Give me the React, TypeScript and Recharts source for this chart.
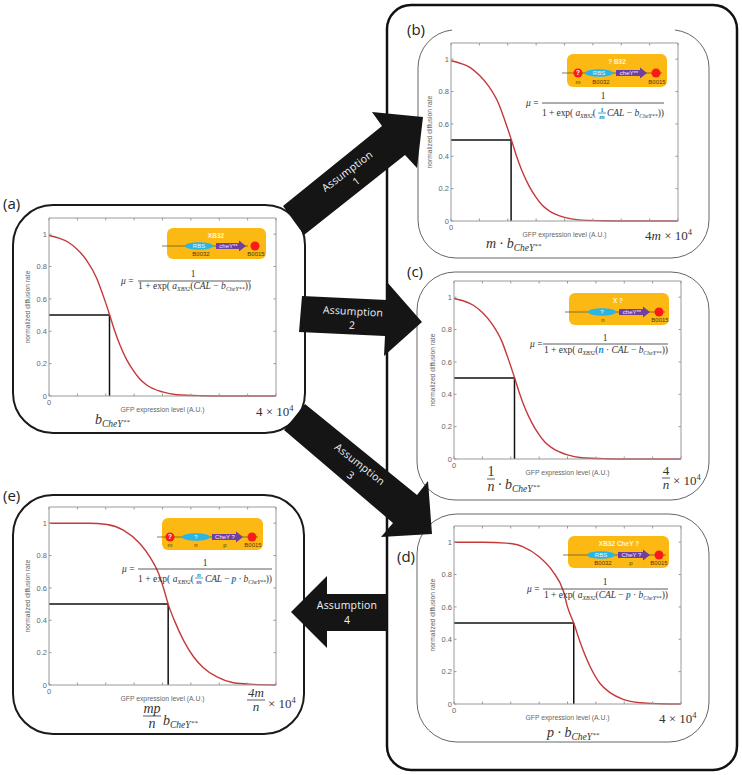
import React from "react";
import { LineChart, Line, XAxis, YAxis, ReferenceLine } from "recharts";

const xEarly = [0, 0.16, 0.34, 0.5, 0.66, 0.84, 0.95, 1.07, 1.16, 1.25, 1.37, 1.49, 1.6, 1.72, 2.0, 2.25, 2.66, 3.2, 4];
const yPanelA = [0.992, 0.977, 0.95, 0.905, 0.84, 0.728, 0.625, 0.5, 0.4, 0.315, 0.223, 0.155, 0.105, 0.068, 0.025, 0.008, 0.002, 0, 0];
const yPanelB = [0.99, 0.975, 0.948, 0.9, 0.835, 0.725, 0.62, 0.495, 0.395, 0.31, 0.22, 0.15, 0.1, 0.065, 0.022, 0.007, 0.002, 0, 0];
const yPanelC = [0.992, 0.978, 0.95, 0.905, 0.84, 0.73, 0.625, 0.5, 0.4, 0.315, 0.225, 0.155, 0.105, 0.07, 0.025, 0.008, 0.002, 0, 0];
const xPanelD = [0, 0.51, 0.92, 1.21, 1.5, 1.74, 1.93, 2.0, 2.11, 2.22, 2.4, 2.57, 2.75, 2.98, 3.28, 3.63, 4];
const yPanelD = [1, 1, 0.994, 0.973, 0.91, 0.82, 0.695, 0.6, 0.5, 0.385, 0.23, 0.128, 0.07, 0.029, 0.008, 0.002, 0];
const xPanelE = [0, 0.69, 1.02, 1.31, 1.6, 1.78, 1.93, 2.02, 2.1, 2.22, 2.37, 2.55, 2.72, 2.96, 3.25, 3.6, 4];
const yPanelE = [1, 1, 0.992, 0.957, 0.874, 0.79, 0.69, 0.596, 0.5, 0.39, 0.276, 0.173, 0.107, 0.05, 0.014, 0.004, 0];

const xTicks = [0, 0.5, 1, 1.5, 2, 2.5, 3, 3.5, 4];
const yTicks = [0, 0.2, 0.4, 0.6, 0.8, 1];
const yLabel = "normalized diffusion rate";
const xLabel = "GFP expression level (A.U.)";

const AXIS = "#9a9a9a";
const LABEL = "#666";
const SANS = "'Liberation Sans', Arial, sans-serif";
const SERIF = "'Liberation Serif', serif";
const UI = "'Open Sans', sans-serif";

const LEFT = 30, BOTTOM = 30, PAD = 6, PW = 227, PH = 178;

function Plot({ px, py, xs, ys, half }: { px: number; py: number; xs: number[]; ys: number[]; half: number }) {
  const data = xs.map((x, i) => ({ x, y: ys[i] }));
  const botTick = ({ x, y, payload }: any) => (
    <g>
      <line x1={x} x2={x} y1={y} y2={y - 2.5} stroke={AXIS} />
      <line x1={x} x2={x} y1={y - PH} y2={y - PH + 2.5} stroke={AXIS} />
      {payload.value === 0 ? <text x={x} y={y + 9} fontSize={7.5} fill={LABEL} textAnchor="middle" fontFamily={SANS}>0</text> : null}
    </g>
  );
  const leftTick = ({ x, y, payload }: any) => (
    <g>
      <line x1={x} x2={x + 2.5} y1={y} y2={y} stroke={AXIS} />
      <line x1={x + PW} x2={x + PW - 2.5} y1={y} y2={y} stroke={AXIS} />
      <text x={x - 2} y={y + 2.7} fontSize={7.5} fill={LABEL} textAnchor="end" fontFamily={SANS}>{payload.value}</text>
    </g>
  );
  return (
    <div style={{ position: "absolute", left: px - LEFT, top: py - PAD }}>
      <LineChart width={LEFT + PW + PAD} height={PAD + PH + BOTTOM} data={data} margin={{ top: PAD, right: PAD, bottom: 0, left: 0 }}>
        <XAxis dataKey="x" type="number" domain={[0, 4]} ticks={xTicks} height={BOTTOM} interval={0} tickSize={0} tickMargin={0} tick={botTick} stroke={AXIS}
          label={{ value: xLabel, position: "insideTop", offset: 11, fontSize: 6.8, fill: LABEL, fontFamily: SANS }} />
        <YAxis type="number" domain={[0, 1.1]} ticks={yTicks} width={LEFT} interval={0} tickSize={0} tickMargin={0} tick={leftTick} stroke={AXIS}
          label={{ value: yLabel, angle: -90, position: "insideLeft", offset: 9, fontSize: 6.7, fill: LABEL, fontFamily: SANS, style: { textAnchor: "middle" } }} />
        <ReferenceLine x={4} stroke={AXIS} />
        <ReferenceLine y={1.1} stroke={AXIS} />
        <ReferenceLine segment={[{ x: 0, y: 0.5 }, { x: half, y: 0.5 }]} stroke="#111" strokeWidth={1.5} />
        <ReferenceLine segment={[{ x: half, y: 0.5 }, { x: half, y: 0 }]} stroke="#111" strokeWidth={1.5} />
        <Line dataKey="y" type="monotone" stroke="#c5383a" strokeWidth={1.4} dot={false} isAnimationActive={false} />
      </LineChart>
    </div>
  );
}

function Arrow({ points, lines }: { points: string; lines: [string, number, number, number][] }) {
  return (
    <g>
      <polygon points={points} fill="#151515" />
      {lines.map(([t, x, y, a]) => (
        <text key={t + x} x={x} y={y} transform={`rotate(${a} ${x} ${y})`} fontSize={10.5} fill="#f2f2f2" textAnchor="middle" dominantBaseline="central" fontFamily={UI} letterSpacing={0.2}>{t}</text>
      ))}
    </g>
  );
}

function Gene({ x, y, w, h, title, titleX, line, ell, ellText, arrow, arrowText, stop, q, labels }:
  { x: number; y: number; w: number; h: number; title?: string; titleX?: number; line: number[]; ell: number; ellText: string; arrow: number[]; arrowText: string; stop: number; q?: number; labels: [string, number][] }) {
  const ly = line[2];
  return (
    <g fontFamily={SANS} textAnchor="middle">
      <rect x={x} y={y} width={w} height={h} rx={6} fill="#fdb913" />
      {title ? <text x={titleX} y={y + 9.5} fontSize={6.5} fontWeight={700} fill="#fff6dc">{title}</text> : null}
      <line x1={line[0]} x2={line[1]} y1={ly} y2={ly} stroke="#6b5a2a" strokeWidth={0.8} />
      <ellipse cx={ell} cy={ly} rx={14} ry={3.8} fill="#2bb5e5" />
      <text x={ell} y={ly + 2.2} fontSize={6} fill="#eaf6fb">{ellText}</text>
      <polygon points={`${arrow[0]},${ly - 3} ${arrow[1] - 7},${ly - 3} ${arrow[1] - 7},${ly - 5.5} ${arrow[1]},${ly} ${arrow[1] - 7},${ly + 5.5} ${arrow[1] - 7},${ly + 3} ${arrow[0]},${ly + 3}`} fill="#7040a0" />
      <text x={(arrow[0] + arrow[1] - 5) / 2} y={ly + 2.2} fontSize={6} fill="#f1e8f8">{arrowText}</text>
      <circle cx={stop} cy={ly} r={4.5} fill="#fa1a1a" />
      {q ? <g><circle cx={q} cy={ly} r={4.5} fill="#fa1a1a" /><text x={q} y={ly + 2.3} fontSize={6.5} fontWeight={700} fill="#fff">?</text></g> : null}
      {labels.map(([t, lx]) => <text key={t} x={lx} y={y + h - 2.8} fontSize={6} fill="#4a3a10">{t}</text>)}
    </g>
  );
}

const Sub = ({ t }: { t: string }) => <tspan fontSize="62%" dy={2} fontStyle="italic">{t}</tspan>;

function Frac({ x, y, top, bot, w, size, fill, bold }: { x: number; y: number; top: string; bot: string; w: number; size: number; fill?: string; bold?: boolean }) {
  return (
    <g fontFamily={SERIF} fontSize={size} textAnchor="middle" fill={fill ?? "#333"} fontWeight={bold ? 700 : 400}>
      <text x={x} y={y - size * 0.2} fontStyle={/[a-z]/.test(top) ? "italic" : "normal"}>{top}</text>
      <line x1={x - w / 2} x2={x + w / 2} y1={y} y2={y} stroke={fill ?? "#333"} strokeWidth={0.8} />
      <text x={x} y={y + size * 0.85} fontStyle="italic">{bot}</text>
    </g>
  );
}

function Formula({ mu, x1, x2, ly, numX, numY, denY, children }: { mu: number; x1: number; x2: number; ly: number; numX: number; numY: number; denY: number; children: React.ReactNode }) {
  return (
    <g fontFamily={SERIF} fontSize={9.5} fill="#333">
      <text x={mu} y={ly + 3}><tspan fontStyle="italic">μ</tspan> =</text>
      <text x={numX} y={numY} textAnchor="middle">1</text>
      <line x1={x1} x2={x2} y1={ly} y2={ly} stroke="#333" strokeWidth={0.8} />
      <g transform={`translate(0 ${denY})`}>{children}</g>
    </g>
  );
}

const Blue = "#1f86c8";

function Cap({ x, y, pre, size = 14 }: { x: number; y: number; pre?: string; size?: number }) {
  return (
    <text x={x} y={y} fontFamily={SERIF} fontSize={size} fill="#333" fontStyle="italic">
      {pre ? <tspan>{pre}</tspan> : null}b<tspan fontSize="68%" dy={3}>CheY</tspan><tspan fontSize="50%" dy={-3}>**</tspan>
    </text>
  );
}

function Ten({ x, y, pre, size = 13 }: { x: number; y: number; pre: string; size?: number }) {
  return (
    <text x={x} y={y} fontFamily={SERIF} fontSize={size} fill="#333">
      {pre.replace("m", "")}{pre.includes("m") ? <tspan fontStyle="italic">m</tspan> : null} × 10<tspan fontSize="65%" dy={-5}>4</tspan>
    </text>
  );
}

const Tag = ({ t, x, y }: { t: string; x: number; y: number }) => (
  <text x={x} y={y} fontFamily={UI} fontSize={15} fontWeight={500} fill="#222" dominantBaseline="central">{t}</text>
);

export default function App() {
  return (
    <div style={{ position: "absolute", left: 0, top: 0, width: 742, height: 775, background: "#fff", overflow: "hidden" }}>
      <svg width={742} height={775} style={{ position: "absolute", left: 0, top: 0 }}>
        <rect x={387} y={5} width={350} height={765} rx={24} fill="#fff" stroke="#111" strokeWidth={2.5} />
        <rect x={13} y={205} width={292} height={228} rx={40} fill="#fff" stroke="#1a1a1a" strokeWidth={2} />
        <rect x={13} y={495} width={291} height={239} rx={40} fill="#fff" stroke="#1a1a1a" strokeWidth={2} />
        <rect x={418} y={30} width={291} height={228} rx={38} fill="#fff" stroke="none" />
        <path d="M452,30 A38,38 0 0 0 418,68 V220 A38,38 0 0 0 456,258 H671 A38,38 0 0 0 709,220 V68 A38,38 0 0 0 675,30" fill="none" stroke="#666" strokeWidth={1} />
        <rect x={417} y={272} width={292} height={228} rx={38} fill="#fff" stroke="#666" strokeWidth={1} />
        <rect x={417} y={514} width={292} height={228} rx={40} fill="#fff" stroke="#666" strokeWidth={1} />
      </svg>

      <Plot px={49} py={218} xs={xEarly} ys={yPanelA} half={1.066} />
      <Plot px={451} py={43} xs={xEarly} ys={yPanelB} half={1.059} />
      <Plot px={454} py={281} xs={xEarly} ys={yPanelC} half={1.066} />
      <Plot px={454} py={526} xs={xPanelD} ys={yPanelD} half={2.11} />
      <Plot px={49} py={507} xs={xPanelE} ys={yPanelE} half={2.1} />

      <svg width={742} height={775} style={{ position: "absolute", left: 0, top: 0 }}>
        <Arrow points="283,206 382,126 372,112 423,117 417,168 405,155 304,235" lines={[["Assumption", 347, 171, -37], ["1", 356, 181, -37]]} />
        <Arrow points="302,296 387,300 387,282 422,322 384,356 385,336 299,332" lines={[["Assumption", 353, 311, 3], ["2", 352, 325, 3]]} />
        <Arrow points="305,404 417,495 428,481 432,534 381,537 393,523 284,430" lines={[["Assumption", 360, 464, 38], ["3", 351, 475, 38]]} />
        <Arrow points="291,612 327,576 327,594 387,594 387,631 327,631 327,648" lines={[["Assumption", 347, 605, 0], ["4", 347, 620, 0]]} />

        <Tag t="(a)" x={3} y={203} />
        <Tag t="(b)" x={407} y={29} />
        <Tag t="(c)" x={407} y={271} />
        <Tag t="(d)" x={397} y={556} />
        <Tag t="(e)" x={3} y={495} />

        <Gene x={167} y={228} w={99} h={31} title="XB32" titleX={216} line={[162, 248, 246]} ell={199} ellText="RBS" arrow={[216, 246]} arrowText="cheY**" stop={255} labels={[["B0032", 201], ["B0015", 256]]} />
        <Gene x={567} y={54} w={100} h={33} title="? B32" titleX={617} line={[562, 662, 73]} ell={599} ellText="RBS" arrow={[616, 647]} arrowText="cheY**" stop={656} q={578} labels={[["m", 578], ["B0032", 601], ["B0015", 657]]} />
        <Gene x={569} y={293} w={100} h={32} title="X ?" titleX={618} line={[565, 665, 312]} ell={602} ellText="?" arrow={[619, 650]} arrowText="cheY**" stop={659} labels={[["n", 603], ["B0015", 660]]} />
        <Gene x={568} y={536} w={101} h={32} title="XB32 CheY ?" titleX={619} line={[563, 666, 555]} ell={601} ellText="RBS" arrow={[618, 650]} arrowText="CheY ?" stop={659} labels={[["B0032", 603], ["p", 631], ["B0015", 659]]} />
        <Gene x={162} y={518} w={101} h={32} line={[157, 258, 537]} ell={196} ellText="?" arrow={[212, 243]} arrowText="CheY ?" stop={252} q={170} labels={[["m", 170], ["n", 196], ["p", 225], ["B0015", 253]]} />

        <Formula mu={121} x1={138} x2={251} ly={281} numX={193} numY={277} denY={289}>
          <text x={138} y={0} textLength={113}>1 + exp( <tspan fontStyle="italic">a</tspan><Sub t="XB32" /><tspan dy={-2}>(</tspan><tspan fontStyle="italic">CAL</tspan> − <tspan fontStyle="italic">b</tspan><Sub t="CheY**" /><tspan dy={-2}>))</tspan></text>
        </Formula>
        <Formula mu={526} x1={542} x2={664} ly={103} numX={603} numY={99} denY={116}>
          <text x={542} y={0} textLength={54}>1 + exp( <tspan fontStyle="italic">a</tspan><Sub t="XB32" /><tspan dy={-2}>(</tspan></text>
          <text x={607} y={0} textLength={57}><tspan fontStyle="italic">CAL</tspan> − <tspan fontStyle="italic">b</tspan><Sub t="CheY**" /><tspan dy={-2}>))</tspan></text>
        </Formula>
        <Frac x={602} y={113} top="1" bot="m" w={8} size={7} fill={Blue} bold />
        <Formula mu={530} x1={543} x2={668} ly={344} numX={605} numY={341} denY={353}>
          <text x={544} y={0} textLength={124}>1 + exp( <tspan fontStyle="italic">a</tspan><Sub t="XB32" /><tspan dy={-2}>(</tspan><tspan fill={Blue} fontWeight={700} fontStyle="italic">n</tspan> · <tspan fontStyle="italic">CAL</tspan> − <tspan fontStyle="italic">b</tspan><Sub t="CheY**" /><tspan dy={-2}>))</tspan></text>
        </Formula>
        <Formula mu={527} x1={543} x2={668} ly={589} numX={605} numY={585} denY={598}>
          <text x={544} y={0} textLength={124}>1 + exp( <tspan fontStyle="italic">a</tspan><Sub t="XB32" /><tspan dy={-2}>(</tspan><tspan fontStyle="italic">CAL</tspan> − <tspan fill={Blue} fontWeight={700} fontStyle="italic">p</tspan> · <tspan fontStyle="italic">b</tspan><Sub t="CheY**" /><tspan dy={-2}>))</tspan></text>
        </Formula>
        <Formula mu={122} x1={138} x2={272} ly={569} numX={205} numY={566} denY={582}>
          <text x={138} y={0} textLength={56}>1 + exp( <tspan fontStyle="italic">a</tspan><Sub t="XB32" /><tspan dy={-2}>(</tspan></text>
          <text x={205} y={0} textLength={67}><tspan fontStyle="italic">CAL</tspan> − <tspan fill={Blue} fontWeight={700} fontStyle="italic">p</tspan> · <tspan fontStyle="italic">b</tspan><Sub t="CheY**" /><tspan dy={-2}>))</tspan></text>
        </Formula>
        <Frac x={199} y={578} top="n" bot="m" w={8} size={7} fill={Blue} bold />

        <Cap x={95} y={424} />
        <Ten x={256} y={416} pre="4" />
        <Cap x={486} y={248} pre="m · " />
        <Ten x={645} y={240} pre="4m" />
        <Frac x={491} y={479} top="1" bot="n" w={8} size={14} />
        <Cap x={498} y={489} pre="· " />
        <Frac x={666} y={478} top="4" bot="n" w={8} size={13} />
        <Ten x={673} y={485} pre="" />
        <Cap x={547} y={737} pre="p · " />
        <Ten x={659} y={723} pre="4" />
        <Frac x={152} y={716} top="mp" bot="n" w={18} size={14} />
        <Cap x={163} y={725} />
        <Frac x={256} y={700} top="4m" bot="n" w={18} size={13} />
        <Ten x={268} y={708} pre="" />
      </svg>
    </div>
  );
}
